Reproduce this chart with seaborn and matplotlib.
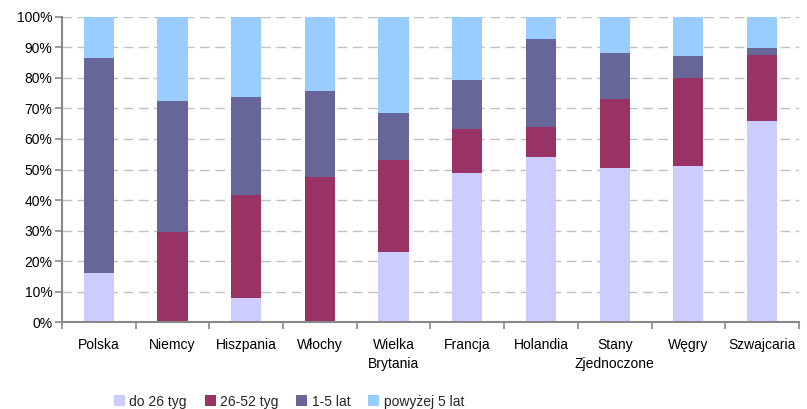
import matplotlib
matplotlib.use("Agg")
import matplotlib.pyplot as plt
from matplotlib.patches import Patch
from matplotlib.ticker import FixedLocator, PercentFormatter
import numpy as np
import seaborn as sns

categories = ["Polska", "Niemcy", "Hiszpania", "Włochy", "Wielka\nBrytania",
              "Francja", "Holandia", "Stany\nZjednoczone", "Węgry", "Szwajcaria"]
series_names = ["do 26 tyg", "26-52 tyg", "1-5 lat", "powyżej 5 lat"]
do_26_tyg = [16.1, 0.0, 7.9, 0.0, 23.0, 48.8, 54.1, 50.5, 51.1, 65.9]
tyg_26_52 = [0.0, 29.6, 33.7, 47.5, 30.1, 14.4, 9.8, 22.6, 28.9, 21.5]
lat_1_5 = [70.4, 42.8, 32.1, 28.2, 15.4, 16.1, 28.8, 15.0, 7.1, 2.3]
powyzej_5_lat = [13.5, 27.6, 26.3, 24.3, 31.5, 20.7, 7.3, 11.9, 12.9, 10.3]
colors = ["#CCCCFF", "#993366", "#666699", "#99CCFF"]

sns.set_theme(style="white")
plt.rcParams["font.family"] = ["Liberation Sans", "DejaVu Sans"]

fig = plt.figure(figsize=(8.07, 4.09), dpi=100)
ax = fig.add_axes([0.0768, 0.212, 0.9132, 0.747])

layers = [do_26_tyg, tyg_26_52, lat_1_5, powyzej_5_lat]
bottom = np.zeros(len(categories))
x_idx = list(range(len(categories)))
for vals, col in zip(layers, colors):
    sns.barplot(x=x_idx, y=vals, bottom=bottom, color=col, width=0.41,
                saturation=1, ax=ax, zorder=3, linewidth=0)
    bottom = bottom + np.array(vals)

ax.set_xlim(-0.5, len(categories) - 0.5)
ax.set_ylim(0, 100)
ax.yaxis.set_major_locator(FixedLocator(np.arange(0, 101, 10)))
ax.yaxis.set_major_formatter(PercentFormatter(decimals=0))
ax.grid(axis="y", color="#C0C0C0", linestyle=(0, (7, 4)), linewidth=1, zorder=0)
ax.grid(axis="x", visible=False)

ax.set_xticks(x_idx)
ax.set_xticklabels(categories, fontsize=10, color="black", linespacing=1.5)
ax.xaxis.set_minor_locator(FixedLocator(np.arange(-0.5, len(categories), 1)))
ax.tick_params(axis="x", which="major", length=0, pad=11)
ax.tick_params(axis="x", which="minor", length=5, width=1.2, color="#888888", direction="out")
ax.tick_params(axis="y", which="major", length=5, width=1.2, color="#888888",
               direction="out", labelsize=10, labelcolor="black", pad=2)
ax.tick_params(axis="x", which="minor", bottom=True)
ax.tick_params(axis="y", left=True)

for side in ["top", "right"]:
    ax.spines[side].set_visible(False)
for side in ["left", "bottom"]:
    ax.spines[side].set_color("#888888")
    ax.spines[side].set_linewidth(1.5)
    ax.spines[side].set_zorder(4)

ax.set_xlabel("")
ax.set_ylabel("")

handles = [Patch(facecolor=c, edgecolor="none", label=n) for c, n in zip(colors, series_names)]
fig.legend(handles=handles, loc="center", bbox_to_anchor=(0.358, 0.018),
           ncol=4, frameon=False, fontsize=10, handlelength=0.8, handleheight=0.8,
           handletextpad=0.3, columnspacing=1.3)

fig.savefig("out.png", dpi=100)
